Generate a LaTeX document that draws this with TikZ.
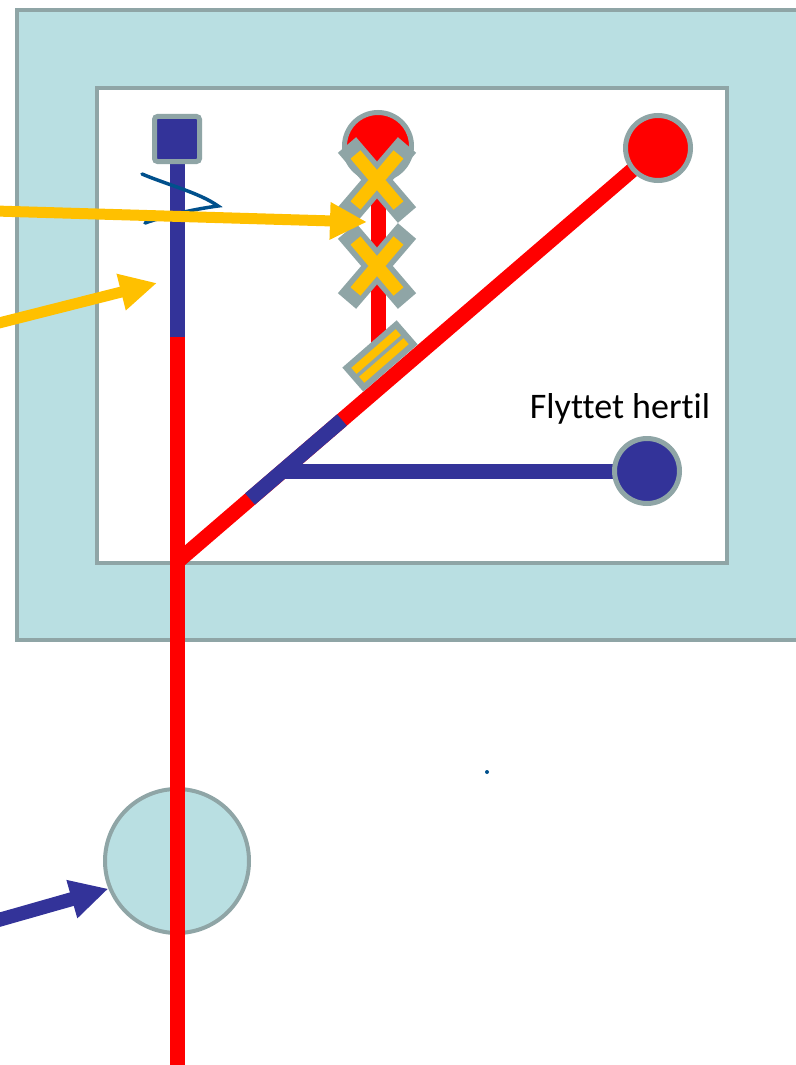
\documentclass[tikz,border=0pt]{standalone}
\usepackage{fontspec}
\setmainfont[Ligatures=NoCommon]{Carlito}
\usetikzlibrary{arrows.meta,calc,shapes.misc}
\newlength{\du}
\setlength{\du}{0.5pt}
\definecolor{trackred}{rgb}{1.000000, 0.000000, 0.000000}
\definecolor{lineblue}{rgb}{0.200000, 0.200000, 0.600000}
\definecolor{signyellow}{rgb}{1.000000, 0.753000, 0.000000}
\definecolor{framegray}{rgb}{0.560000, 0.647000, 0.651000}
\definecolor{roomblue}{rgb}{0.725000, 0.875000, 0.886000}
\definecolor{inkblue}{rgb}{0.000000, 0.314000, 0.549000}
\pgfdeclarelayer{frame}
\pgfdeclarelayer{tracks}
\pgfsetlayers{frame,tracks,main}
\tikzset{
  wall/.style={draw=framegray, line width=4\du},
  track/.style={line width=15\du, line cap=butt},
  stop/.style={draw=framegray, line width=5\du, inner sep=0pt},
  xedge/.style={cross out, draw=framegray, line width=24\du, minimum width=36\du, minimum height=46\du, inner sep=0pt},
  xcore/.style={cross out, draw=signyellow, line width=13\du, minimum width=30\du, minimum height=38\du, inner sep=0pt},
  capbox/.style={fill=framegray, minimum width=72\du, minimum height=32\du, inner sep=0pt, rotate=41},
  strip/.style={signyellow, line width=8\du, shorten <=7\du, shorten >=7\du},
  yarrow/.style={signyellow, line width=11\du, -{Triangle[length=18.5pt,width=17.5pt]}},
  barrow/.style={lineblue, line width=14\du, -{Triangle[length=19pt,width=18.5pt]}},
  note/.style={font=\fontsize{18pt}{21pt}\selectfont, inner sep=0pt}
}

\begin{document}
\begin{tikzpicture}
\pgftransformyscale{-1.000000}
\clip (0\du,0\du) rectangle (796\du,1065\du);
% rooms
\begin{pgfonlayer}{frame}
\draw[wall, fill=roomblue] (17\du,10\du) rectangle (830\du,640\du);
\draw[wall, fill=white] (97\du,88\du) rectangle (727\du,563\du);
\node[stop, circle, fill=roomblue, line width=4\du, minimum size=144\du] (room) at (177\du,861\du) {};
\end{pgfonlayer}
% stops
\node[stop, fill=lineblue, rounded corners=3\du, minimum size=45\du] (start) at (177\du,139\du) {};
\node[stop, circle, fill=trackred, minimum size=67\du] (endA) at (378\du,146\du) {};
\node[stop, circle, fill=trackred, minimum size=65\du] (endB) at (658\du,148\du) {};
\node[stop, circle, fill=lineblue, minimum size=65\du] (moved) at (647\du,471\du) {};
\node[capbox] (cap) at (380\du,356\du) {};
\draw[strip] ($(cap.south west)!0.32!(cap.north west)$) -- ($(cap.south east)!0.32!(cap.north east)$);
\draw[strip] ($(cap.south west)!0.68!(cap.north west)$) -- ($(cap.south east)!0.68!(cap.north east)$);
% points on the tracks
\coordinate (split) at (177\du,337\du);
\coordinate (bottom) at (177\du,1070\du);
\coordinate (junc) at (177\du,562\du);
\coordinate (blueA) at (250\du,499\du);
\coordinate (blueB) at (342\du,420\du);
\coordinate (branch) at (283\du,471\du);
% tracks
\begin{pgfonlayer}{tracks}
\draw[track, lineblue] (start.center) -- (split);
\draw[track, trackred] (split) -- (bottom);
\draw[track, trackred] (junc) -- (endB.center);
\draw[track, lineblue] (blueA) -- (blueB);
\draw[track, lineblue] (branch) -- (moved.center);
\draw[track, trackred] (endA.center) -- (endA.center |- cap.center);
\end{pgfonlayer}
% crossings
\node[xedge] (xA) at (377\du,180\du) {};
\node[xcore] (xAc) at (xA) {};
\node[xedge] (xB) at (377\du,266\du) {};
\node[xcore] (xBc) at (xB) {};
% scribble
\draw[inkblue, line width=3.5\du, line cap=round] (142\du,174\du) .. controls (168\du,185\du) and (200\du,193\du) .. (218\du,206\du) .. controls (195\du,209\du) and (168\du,215\du) .. (145\du,223\du);
% arrows
\coordinate (inA) at (-5\du,211\du);
\coordinate (tipA) at (367\du,222\du);
\coordinate (inB) at (-5\du,324\du);
\coordinate (tipB) at (157\du,283\du);
\coordinate (inC) at (-5\du,921\du);
\draw[yarrow] (inA) -- (tipA);
\draw[yarrow] (inB) -- (tipB);
\draw[barrow] (inC) -- (room.202);
% text
\node[note, anchor=base] (label) at (620\du,418\du) {Flyttet hertil};
\fill[inkblue] (487\du,772\du) circle (2\du);
\end{tikzpicture}
\end{document}
